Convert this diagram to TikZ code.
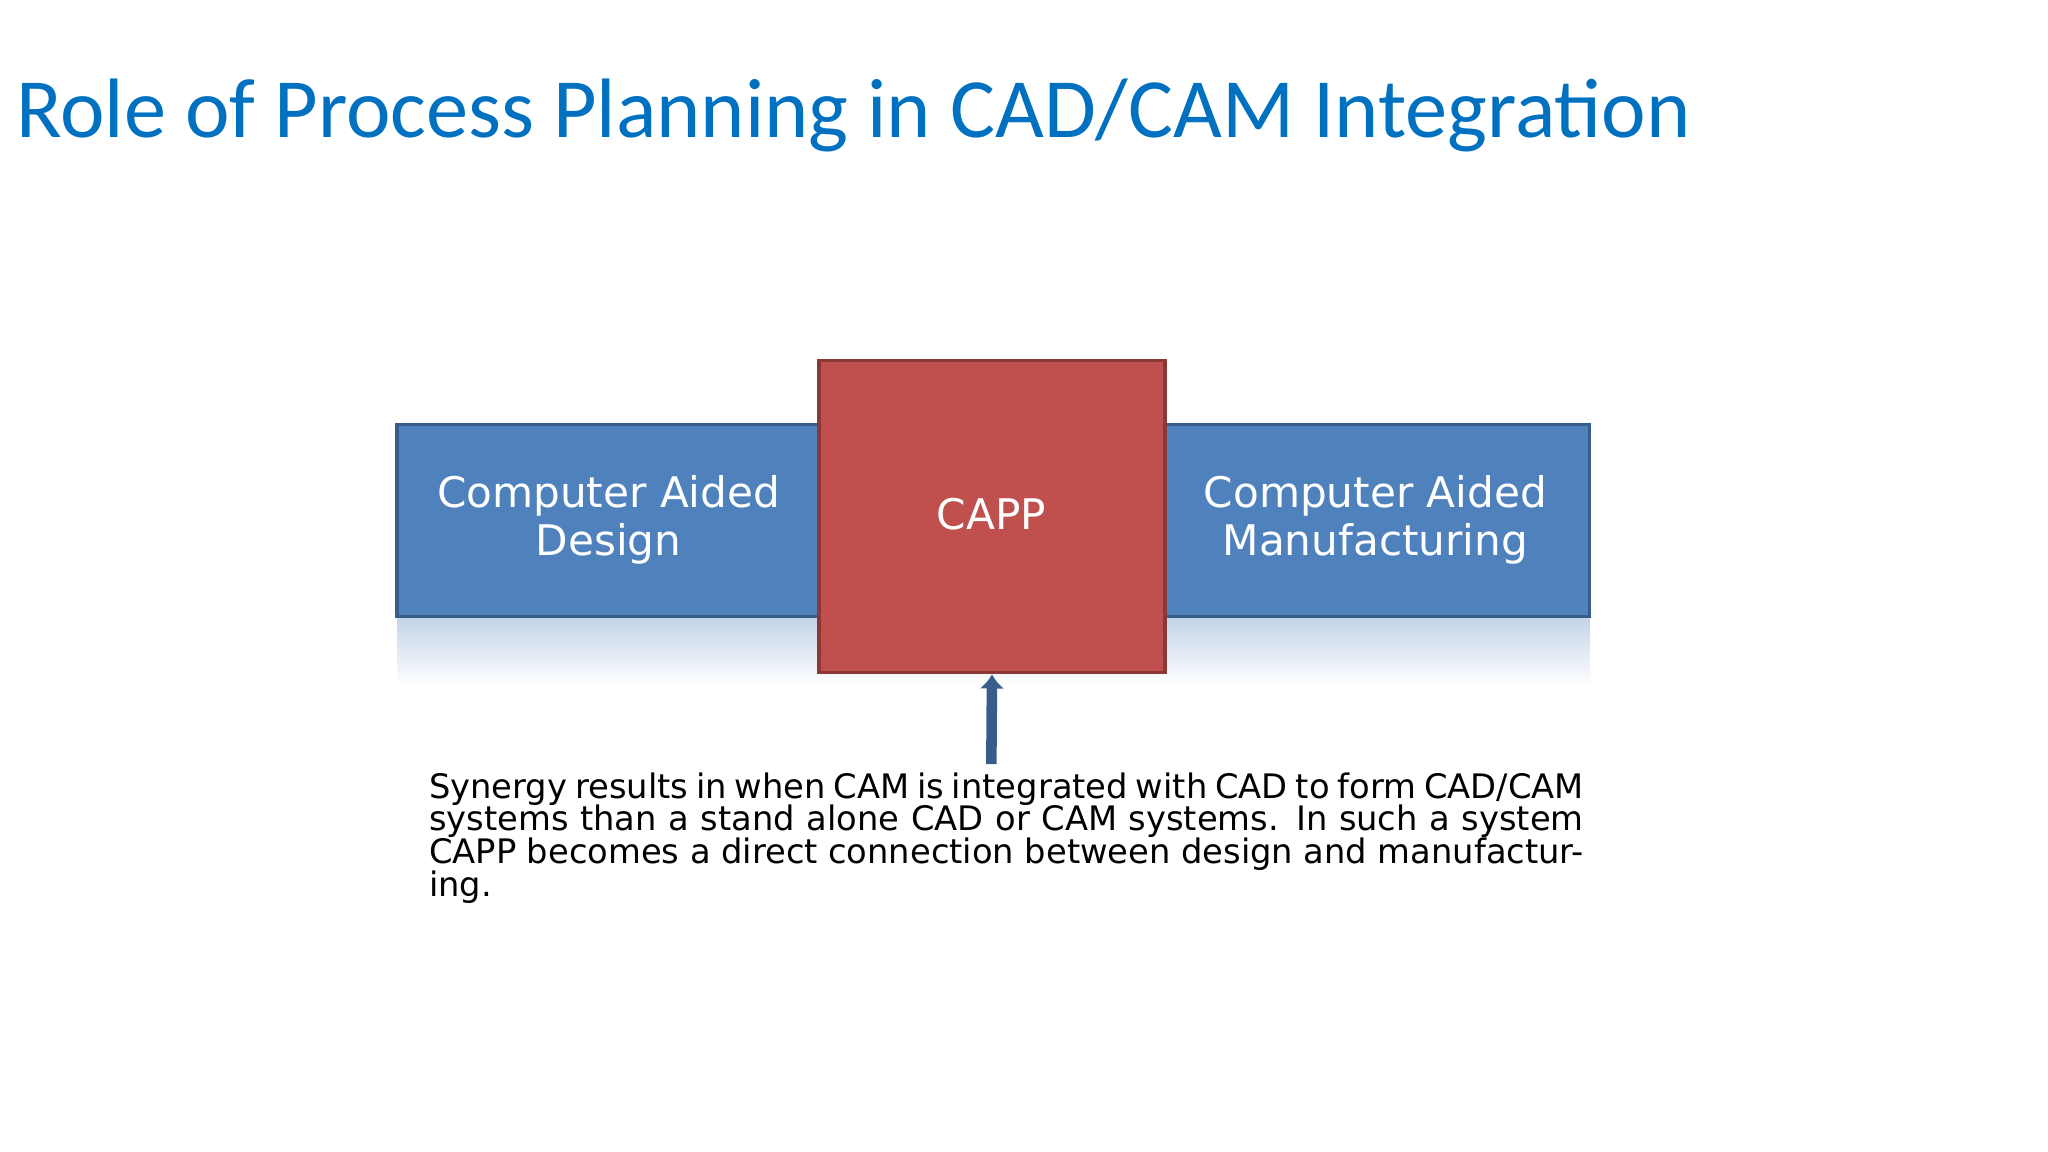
\documentclass[tikz,border=0pt]{standalone}
\usepackage{fontspec}
\usetikzlibrary{arrows.meta}
\setmainfont{DejaVu Sans}
\newfontfamily\titlefont{Carlito}
\definecolor{titleblue}{RGB}{0,112,192}
\definecolor{bandblue}{RGB}{79,129,189}
\definecolor{bandedge}{RGB}{56,93,138}
\definecolor{cappred}{RGB}{192,80,77}
\definecolor{cappedge}{RGB}{140,56,53}
\tikzset{
  boxtext/.style={text=white,align=center,font=\fontsize{12}{13.5}\selectfont},
}
\begin{document}
\begin{tikzpicture}[x=0.01306cm,y=-0.01306cm]
  \useasboundingbox (0,0) rectangle (1568,882);
  % title
  \node[anchor=base west,inner sep=0,text=titleblue,font=\titlefont\fontsize{24}{28}\selectfont] (title) at (12,105) {Role of Process Planning in CAD/CAM Integration};
  % band with reflection
  \shade[top color=bandblue!35,bottom color=white] (304,472) rectangle (1217,525);
  \node[draw=bandedge,line width=1pt,fill=bandblue,minimum width=913*0.01306cm,minimum height=147*0.01306cm,inner sep=0] (band) at (760.5,398.5) {};
  \node[boxtext] (cad) at (466,398) {Computer Aided\\Design};
  \node[boxtext] (cam) at (1053,398) {Computer Aided\\Manufacturing};
  % capp box
  \node[draw=cappedge,line width=1pt,fill=cappred,minimum width=265*0.01306cm,minimum height=239*0.01306cm,inner sep=0] (capp) at (759.5,395.5) {};
  \node[boxtext] (capplabel) at (759,394) {CAPP};
  % text and arrow
  \coordinate (foot) at (759,585);
  \draw[bandedge,line width=3pt,-{Latex[length=4pt,width=7pt]}] (foot) -- (capp.south);
  \node[anchor=north west,inner sep=0,text width=884*0.01306cm,align=justify,font=\fontsize{9.6}{9.3}\selectfont] (note) at (328,591)
    {\hyphenpenalty=10000 Synergy results in when CAM is integrated with CAD to form CAD/CAM systems than a stand alone CAD or CAM systems. In such a system CAPP becomes a direct connection between design and manufacturing.};
\end{tikzpicture}
\end{document}
